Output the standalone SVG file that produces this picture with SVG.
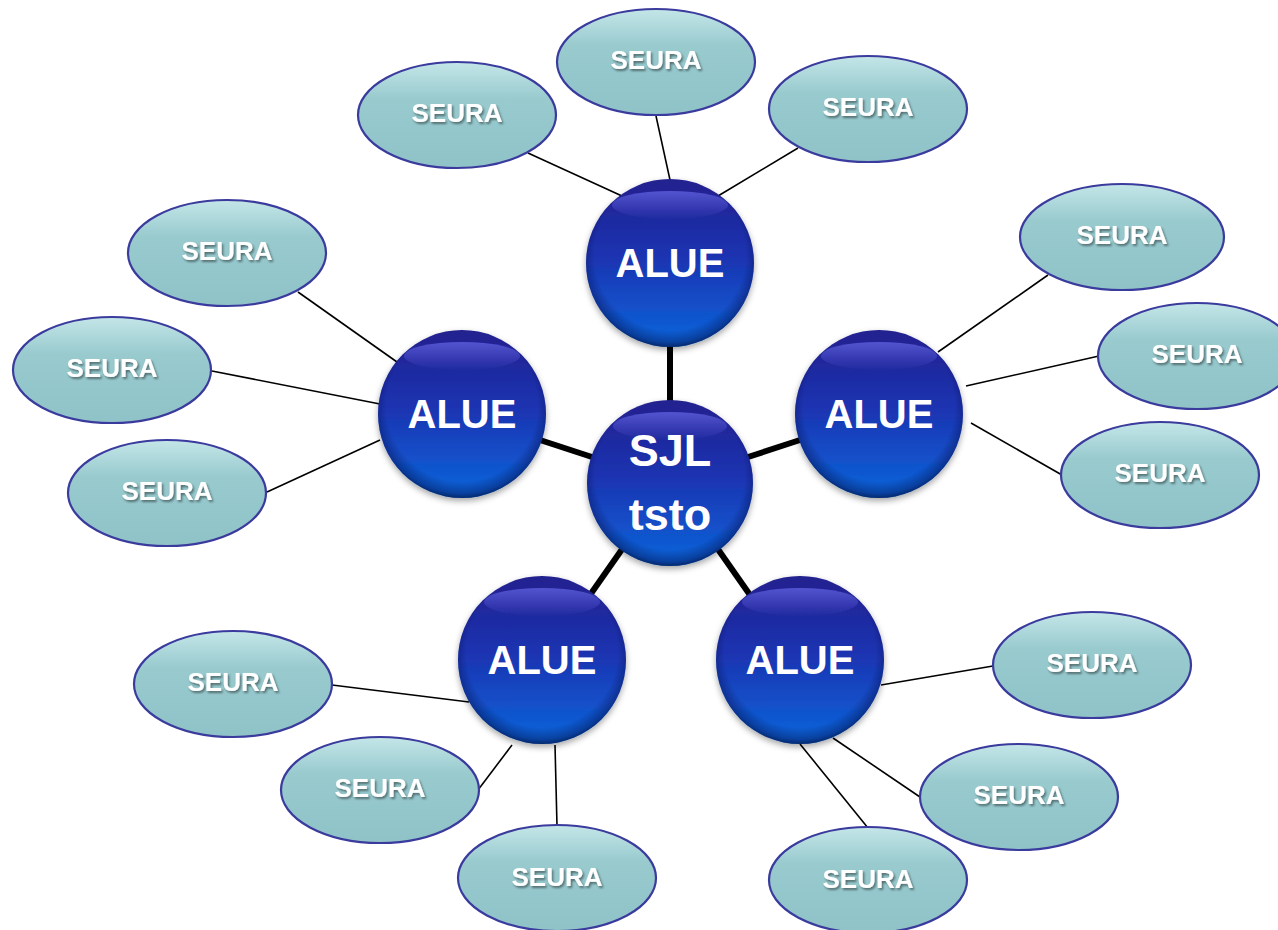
<svg xmlns="http://www.w3.org/2000/svg" width="1278" height="930" viewBox="0 0 1278 930">
<defs>
<linearGradient id="gBall" x1="0" y1="0" x2="0" y2="1">
<stop offset="0" stop-color="#23218f"/>
<stop offset="0.45" stop-color="#1c32b0"/>
<stop offset="1" stop-color="#0b66dc"/>
</linearGradient>
<radialGradient id="gRim" cx="0.5" cy="0.45" r="0.55">
<stop offset="0.82" stop-color="#000030" stop-opacity="0"/>
<stop offset="0.95" stop-color="#000030" stop-opacity="0.35"/>
<stop offset="1" stop-color="#000020" stop-opacity="0.6"/>
</radialGradient>
<linearGradient id="gHi" x1="0" y1="0" x2="0" y2="1">
<stop offset="0" stop-color="#7a7cff" stop-opacity="0.55"/>
<stop offset="1" stop-color="#7a7cff" stop-opacity="0"/>
</linearGradient>
<linearGradient id="gEl" x1="0" y1="0" x2="0" y2="1">
<stop offset="0" stop-color="#c4e6e8"/>
<stop offset="0.35" stop-color="#98cace"/>
<stop offset="1" stop-color="#8fc3c8"/>
</linearGradient>
<filter id="sh" x="-20%" y="-20%" width="140%" height="140%">
<feDropShadow dx="1.5" dy="2" stdDeviation="1.2" flood-color="#000" flood-opacity="0.45"/>
</filter>
<filter id="bsh" x="-20%" y="-20%" width="140%" height="140%">
<feDropShadow dx="0" dy="3" stdDeviation="3" flood-color="#000" flood-opacity="0.35"/>
</filter>
</defs>
<style>
.thin{stroke:#000;stroke-width:1.6;fill:none}
.thick{stroke:#000;stroke-width:6;fill:none}
.el{fill:url(#gEl);stroke:#3b3b9e;stroke-width:2.2}
.ball{fill:url(#gBall)}
.rim{fill:url(#gRim)}
.hi{fill:url(#gHi)}
.st{font-family:"Liberation Sans",Arial,sans-serif;font-weight:bold;fill:#fff;font-size:26px;text-anchor:middle;filter:url(#sh)}
.bt{font-family:"Liberation Sans",Arial,sans-serif;font-weight:bold;fill:#fff;font-size:40px;text-anchor:middle}
.ct{font-family:"Liberation Sans",Arial,sans-serif;font-weight:bold;fill:#fff;font-size:45px;text-anchor:middle}
</style>
<rect width="1278" height="930" fill="#fff"/>
<g id="connectors">
<line class="thick" x1="670" y1="340" x2="670" y2="405"/>
<line class="thick" x1="540" y1="440" x2="595" y2="458"/>
<line class="thick" x1="800" y1="440" x2="745" y2="458"/>
<line class="thick" x1="590" y1="595" x2="625" y2="545"/>
<line class="thick" x1="750" y1="595" x2="715" y2="545"/>
<line class="thin" x1="528" y1="153" x2="622" y2="196"/>
<line class="thin" x1="656" y1="116" x2="670" y2="180"/>
<line class="thin" x1="798" y1="148" x2="718" y2="196"/>
<line class="thin" x1="1048" y1="275" x2="938" y2="352"/>
<line class="thin" x1="1099" y1="356" x2="966" y2="386"/>
<line class="thin" x1="1062" y1="475" x2="971" y2="423"/>
<line class="thin" x1="298" y1="292" x2="397" y2="362"/>
<line class="thin" x1="212" y1="371" x2="380" y2="404"/>
<line class="thin" x1="267" y1="492" x2="380" y2="440"/>
<line class="thin" x1="332" y1="685" x2="469" y2="702"/>
<line class="thin" x1="478" y1="790" x2="512" y2="745"/>
<line class="thin" x1="557" y1="826" x2="555" y2="745"/>
<line class="thin" x1="993" y1="666" x2="881" y2="685"/>
<line class="thin" x1="920" y1="797" x2="833" y2="738"/>
<line class="thin" x1="868" y1="828" x2="800" y2="744"/>
</g>
<g id="seura-tl"><ellipse class="el" cx="457" cy="115" rx="99" ry="53"/><text class="st" x="457" y="122">SEURA</text></g>
<g id="seura-t"><ellipse class="el" cx="656" cy="62" rx="99" ry="53"/><text class="st" x="656" y="69">SEURA</text></g>
<g id="seura-tr"><ellipse class="el" cx="868" cy="109" rx="99" ry="53"/><text class="st" x="868" y="116">SEURA</text></g>
<g id="seura-r1"><ellipse class="el" cx="1122" cy="237" rx="102" ry="53"/><text class="st" x="1122" y="244">SEURA</text></g>
<g id="seura-r2"><ellipse class="el" cx="1197" cy="356" rx="99" ry="53"/><text class="st" x="1197" y="363">SEURA</text></g>
<g id="seura-r3"><ellipse class="el" cx="1160" cy="475" rx="99" ry="53"/><text class="st" x="1160" y="482">SEURA</text></g>
<g id="seura-l1"><ellipse class="el" cx="227" cy="253" rx="99" ry="53"/><text class="st" x="227" y="260">SEURA</text></g>
<g id="seura-l2"><ellipse class="el" cx="112" cy="370" rx="99" ry="53"/><text class="st" x="112" y="377">SEURA</text></g>
<g id="seura-l3"><ellipse class="el" cx="167" cy="493" rx="99" ry="53"/><text class="st" x="167" y="500">SEURA</text></g>
<g id="seura-bl1"><ellipse class="el" cx="233" cy="684" rx="99" ry="53"/><text class="st" x="233" y="691">SEURA</text></g>
<g id="seura-bl2"><ellipse class="el" cx="380" cy="790" rx="99" ry="53"/><text class="st" x="380" y="797">SEURA</text></g>
<g id="seura-bl3"><ellipse class="el" cx="557" cy="878" rx="99" ry="53"/><text class="st" x="557" y="886">SEURA</text></g>
<g id="seura-br1"><ellipse class="el" cx="1092" cy="665" rx="99" ry="53"/><text class="st" x="1092" y="672">SEURA</text></g>
<g id="seura-br2"><ellipse class="el" cx="1019" cy="797" rx="99" ry="53"/><text class="st" x="1019" y="804">SEURA</text></g>
<g id="seura-br3"><ellipse class="el" cx="868" cy="880" rx="99" ry="53"/><text class="st" x="868" y="888">SEURA</text></g>
<g id="alue-top"><circle class="ball" cx="670" cy="263" r="84" filter="url(#bsh)"/><circle class="rim" cx="670" cy="263" r="84"/><ellipse class="hi" cx="670" cy="205" rx="58" ry="14"/><text class="bt" x="670" y="277">ALUE</text></g>
<g id="alue-left"><circle class="ball" cx="462" cy="414" r="84" filter="url(#bsh)"/><circle class="rim" cx="462" cy="414" r="84"/><ellipse class="hi" cx="462" cy="356" rx="58" ry="14"/><text class="bt" x="462" y="428">ALUE</text></g>
<g id="alue-right"><circle class="ball" cx="879" cy="414" r="84" filter="url(#bsh)"/><circle class="rim" cx="879" cy="414" r="84"/><ellipse class="hi" cx="879" cy="356" rx="58" ry="14"/><text class="bt" x="879" y="428">ALUE</text></g>
<g id="alue-bl"><circle class="ball" cx="542" cy="660" r="84" filter="url(#bsh)"/><circle class="rim" cx="542" cy="660" r="84"/><ellipse class="hi" cx="542" cy="602" rx="58" ry="14"/><text class="bt" x="542" y="674">ALUE</text></g>
<g id="alue-br"><circle class="ball" cx="800" cy="660" r="84" filter="url(#bsh)"/><circle class="rim" cx="800" cy="660" r="84"/><ellipse class="hi" cx="800" cy="602" rx="58" ry="14"/><text class="bt" x="800" y="674">ALUE</text></g>
<g id="sjl"><circle class="ball" cx="670" cy="483" r="83" filter="url(#bsh)"/><circle class="rim" cx="670" cy="483" r="83"/><ellipse class="hi" cx="670" cy="426" rx="57" ry="14"/><text class="ct" x="670" y="466">SJL</text><text class="ct" x="670" y="530">tsto</text></g>
</svg>
